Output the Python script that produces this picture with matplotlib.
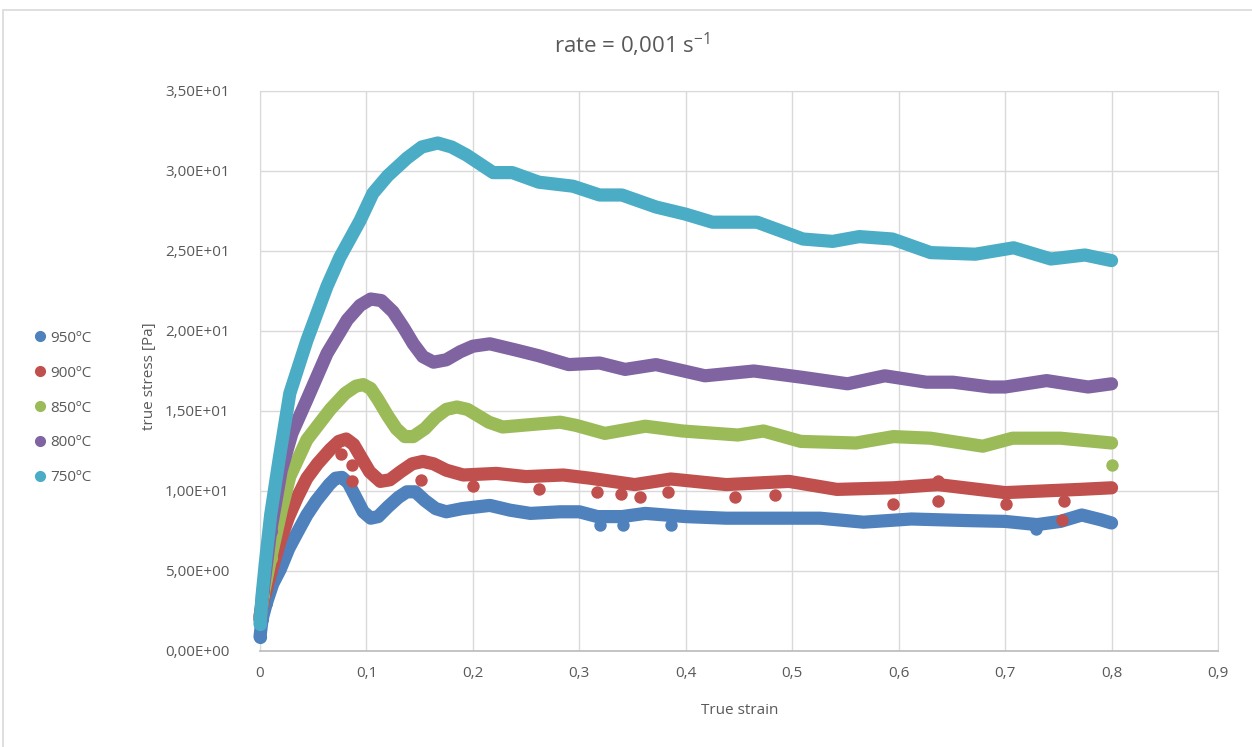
import numpy as np
import matplotlib.pyplot as plt
from matplotlib.lines import Line2D
from matplotlib.patches import Rectangle
from matplotlib.ticker import FuncFormatter

plt.rcParams['font.family'] = ['Open Sans', 'DejaVu Sans']

# flow curves, true strain vs true stress
strain_950 = [0, 0.002, 0.006, 0.012, 0.019, 0.027, 0.035, 0.044, 0.053, 0.065, 0.071, 0.077, 0.083,
              0.09, 0.097, 0.104, 0.111, 0.12, 0.13, 0.138, 0.146, 0.155, 0.165, 0.175, 0.19, 0.216,
              0.235, 0.254, 0.282, 0.30, 0.317, 0.34, 0.362, 0.40, 0.438, 0.48, 0.526, 0.567, 0.612,
              0.665, 0.70, 0.73, 0.752, 0.772, 0.79, 0.80]
stress_950 = [0.9, 2.0, 3.0, 4.2, 5.1, 6.4, 7.4, 8.5, 9.4, 10.4, 10.8, 10.85, 10.5,
              9.6, 8.7, 8.3, 8.4, 9.0, 9.6, 9.95, 9.95, 9.4, 8.9, 8.7, 8.9, 9.1,
              8.8, 8.6, 8.7, 8.7, 8.4, 8.4, 8.6, 8.4, 8.3, 8.3, 8.3, 8.05, 8.25,
              8.15, 8.1, 7.9, 8.1, 8.5, 8.2, 8.0]

strain_900 = [0, 0.002, 0.006, 0.012, 0.019, 0.027, 0.035, 0.044, 0.054, 0.066, 0.074, 0.081, 0.088,
              0.095, 0.103, 0.113, 0.122, 0.132, 0.143, 0.153, 0.163, 0.175, 0.191, 0.222, 0.25, 0.285,
              0.31, 0.352, 0.386, 0.438, 0.497, 0.542, 0.595, 0.637, 0.70, 0.735, 0.77, 0.80]
stress_900 = [2.2, 2.9, 3.9, 5.3, 6.9, 8.4, 9.6, 10.8, 11.7, 12.6, 13.1, 13.25, 12.9,
              12.1, 11.2, 10.6, 10.7, 11.2, 11.7, 11.85, 11.7, 11.3, 11.0, 11.1, 10.9, 11.0,
              10.8, 10.4, 10.75, 10.4, 10.6, 10.1, 10.2, 10.4, 9.9, 10.0, 10.1, 10.2]

strain_850 = [0, 0.003, 0.01, 0.02, 0.028, 0.044, 0.066, 0.08, 0.09, 0.097, 0.104, 0.111, 0.12,
              0.128, 0.136, 0.144, 0.155, 0.165, 0.175, 0.185, 0.195, 0.205, 0.215, 0.228, 0.263,
              0.282, 0.297, 0.324, 0.362, 0.397, 0.449, 0.473, 0.508, 0.56, 0.595, 0.63, 0.679,
              0.707, 0.752, 0.80]
stress_850 = [2.0, 3.5, 5.8, 8.8, 10.9, 13.2, 15.1, 16.1, 16.55, 16.65, 16.4, 15.7, 14.7,
              13.9, 13.4, 13.4, 13.9, 14.6, 15.1, 15.25, 15.1, 14.7, 14.3, 14.0, 14.2,
              14.3, 14.1, 13.6, 14.05, 13.75, 13.5, 13.75, 13.1, 13.0, 13.4, 13.3, 12.8,
              13.3, 13.3, 13.0]

strain_800 = [0, 0.003, 0.01, 0.02, 0.03, 0.044, 0.063, 0.082, 0.094, 0.104, 0.114, 0.125, 0.135,
              0.144, 0.153, 0.163, 0.175, 0.188, 0.2, 0.216, 0.241, 0.262, 0.29, 0.319, 0.343,
              0.372, 0.418, 0.464, 0.51, 0.552, 0.587, 0.626, 0.651, 0.686, 0.70, 0.739, 0.778, 0.80]
stress_800 = [2.0, 3.8, 7.5, 11.3, 13.6, 15.7, 18.6, 20.7, 21.6, 22.0, 21.9, 21.2, 20.2,
              19.2, 18.4, 18.05, 18.2, 18.7, 19.05, 19.2, 18.8, 18.45, 17.9, 18.0, 17.6,
              17.9, 17.2, 17.5, 17.1, 16.7, 17.2, 16.8, 16.8, 16.5, 16.5, 16.9, 16.5, 16.7]

strain_750 = [0, 0.002, 0.005, 0.01, 0.018, 0.028, 0.044, 0.063, 0.075, 0.094, 0.106, 0.12, 0.138,
              0.152, 0.167, 0.18, 0.194, 0.219, 0.237, 0.262, 0.294, 0.319, 0.34, 0.372, 0.40,
              0.425, 0.467, 0.51, 0.538, 0.563, 0.594, 0.63, 0.672, 0.708, 0.743, 0.775, 0.80]
stress_750 = [1.7, 3.5, 5.5, 8.5, 12.0, 16.1, 19.4, 22.8, 24.6, 26.9, 28.6, 29.7, 30.8,
              31.5, 31.75, 31.5, 31.0, 29.9, 29.9, 29.3, 29.05, 28.5, 28.5, 27.75, 27.3,
              26.8, 26.8, 25.75, 25.6, 25.9, 25.75, 24.9, 24.8, 25.2, 24.5, 24.75, 24.4]

# scattered readings
extra_950_x = [0.319, 0.341, 0.386, 0.729]
extra_950_y = [7.85, 7.85, 7.9, 7.6]
extra_900_x = [0.076, 0.086, 0.086, 0.151, 0.2, 0.262, 0.317, 0.339, 0.357, 0.383, 0.446, 0.484,
               0.595, 0.637, 0.637, 0.701, 0.753, 0.755]
extra_900_y = [12.3, 11.6, 10.6, 10.7, 10.3, 10.1, 9.95, 9.8, 9.6, 9.95, 9.65, 9.75,
               9.2, 9.4, 10.6, 9.2, 8.2, 9.4]
extra_850_x = [0.80]
extra_850_y = [11.6]

labels = ['950ºC', '900ºC', '850ºC', '800ºC', '750ºC']
colors = ['#4F81BD', '#C0504D', '#9BBB59', '#8064A2', '#4BACC6']

curves = [(strain_950, stress_950, extra_950_x, extra_950_y),
          (strain_900, stress_900, extra_900_x, extra_900_y),
          (strain_850, stress_850, extra_850_x, extra_850_y),
          (strain_800, stress_800, [], []),
          (strain_750, stress_750, [], [])]

grey = '#595959'

fig = plt.figure(figsize=(12.52, 7.47), dpi=100)
ax = fig.add_axes([260 / 1252, 96 / 747, 958 / 1252, 560 / 747])

# chart area outline
fig.patches.append(Rectangle((3 / 1252, -0.05), 1.1, 1.05 - 10 / 747, transform=fig.transFigure,
                             fill=False, edgecolor='#d9d9d9', linewidth=1.2))

for (sx, sy, ex, ey), c in zip(curves, colors):
    ax.plot(sx, sy, color=c, linewidth=9.5, solid_capstyle='round', solid_joinstyle='round',
            clip_on=False, zorder=3)
    # first readings sit far apart, so their dots show on their own
    ax.scatter(sx[:3], sy[:3], s=90, color=c, linewidths=0, clip_on=False, zorder=3)
    if len(ex):
        ax.scatter(ex, ey, s=80, color=c, linewidths=0, clip_on=False, zorder=3)

ax.set_xlim(0, 0.9)
ax.set_ylim(0, 35)
ax.set_xticks(np.arange(0, 0.91, 0.1))
ax.set_yticks(np.arange(0, 35.1, 5))
ax.xaxis.set_major_formatter(FuncFormatter(lambda v, p: '0' if abs(v) < 1e-9 else f'{v:.1f}'.replace('.', ',')))
ax.yaxis.set_major_formatter(FuncFormatter(lambda v, p: f'{v:.2E}'.replace('.', ',')))
ax.tick_params(length=0, colors=grey, labelsize=11, pad=11)
ax.tick_params(axis='y', pad=22)

ax.grid(True, color='#d9d9d9', linewidth=1)
ax.set_axisbelow(True)
for side in ['top', 'right', 'left']:
    ax.spines[side].set_color('#d9d9d9')
ax.spines['bottom'].set_color('#bfbfbf')
ax.spines['bottom'].set_linewidth(1.3)

fig.text(0.505, 0.94, r'rate = 0,001 s$^{\mathregular{-1}}$', ha='center', va='center',
         fontsize=16, color=grey)
fig.text(740 / 1252, 1 - 710 / 747, 'True strain', ha='center', va='center', fontsize=11, color=grey)
fig.text(150 / 1252, 1 - 376 / 747, 'true stress [Pa]', ha='center', va='center', rotation=90,
         fontsize=11, color=grey)

handles = [Line2D([], [], linestyle='none', marker='o', markersize=7, color=c) for c in colors]
fig.legend(handles, labels, loc='center left', bbox_to_anchor=(26 / 1252, 1 - 408 / 747),
           frameon=False, fontsize=11, labelcolor=grey, handlelength=0.8, handletextpad=0.3,
           labelspacing=1.3, borderpad=0)

fig.savefig('out.png', dpi=100)
